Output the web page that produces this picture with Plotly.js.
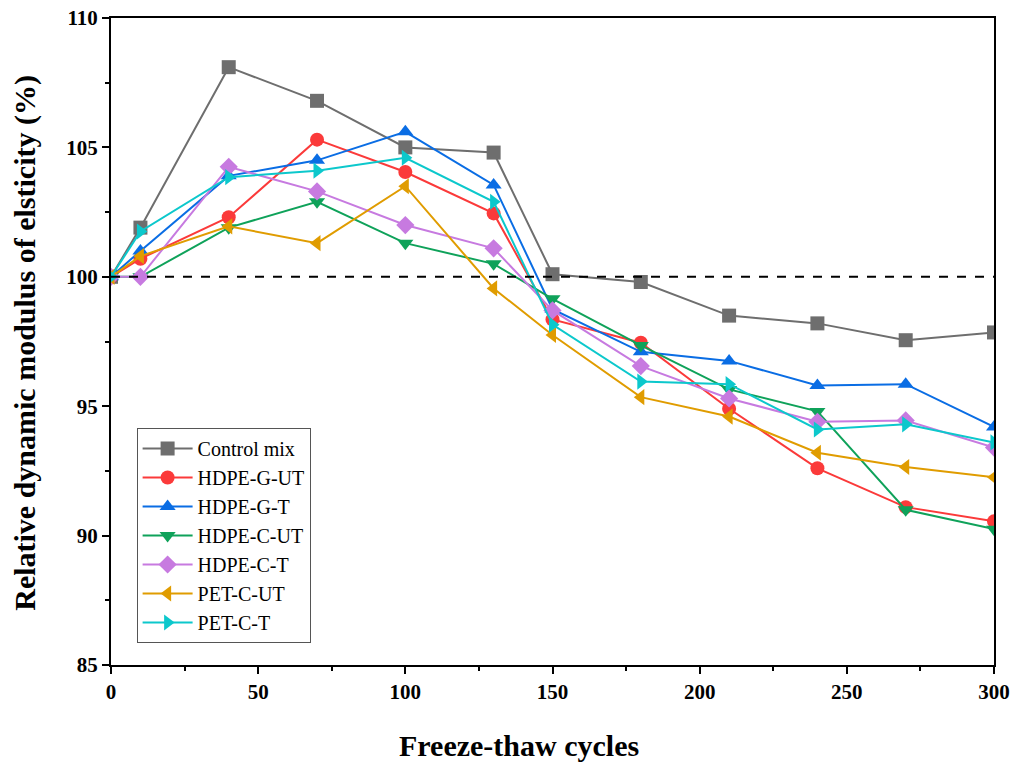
<!DOCTYPE html>
<html>
<head>
<meta charset="utf-8">
<script src="https://cdn.plot.ly/plotly-3.0.1.min.js"></script>
<style>
  html, body { margin: 0; padding: 0; background: #fff; }
  #chart { width: 1020px; height: 771px; }
</style>
</head>
<body>
<div id="chart"></div>
<script>
var cycles = [0, 10, 40, 70, 100, 130, 150, 180, 210, 240, 270, 300];

var controlMix = [100, 101.9, 108.1, 106.8, 105.0, 104.8, 100.1, 99.8, 98.5, 98.2, 97.55, 97.85];
var hdpeGUT = [100, 100.7, 102.3, 105.3, 104.05, 102.45, 98.35, 97.45, 94.9, 92.6, 91.1, 90.55];
var hdpeGT = [100, 101.0, 103.9, 104.5, 105.6, 103.55, 98.75, 97.1, 96.75, 95.8, 95.85, 94.2];
var hdpeCUT = [100, 100.0, 101.9, 102.9, 101.3, 100.5, 99.15, 97.35, 95.65, 94.8, 91.0, 90.25];
var hdpeCT = [100, 100.0, 104.25, 103.3, 102.0, 101.1, 98.7, 96.55, 95.3, 94.4, 94.45, 93.4];
var petCUT = [100, 100.8, 101.95, 101.3, 103.5, 99.55, 97.75, 95.35, 94.6, 93.2, 92.65, 92.25];
var petCT = [100, 101.75, 103.85, 104.1, 104.6, 102.9, 98.15, 95.95, 95.85, 94.1, 94.3, 93.6];

var seriesNames = ["Control mix", "HDPE-G-UT", "HDPE-G-T", "HDPE-C-UT", "HDPE-C-T", "PET-C-UT", "PET-C-T"];
var seriesValues = [controlMix, hdpeGUT, hdpeGT, hdpeCUT, hdpeCT, petCUT, petCT];
var seriesColors = ["#6e6e6e", "#fb3a3a", "#0a6de4", "#0fa25a", "#c77ae0", "#e09c00", "#0cc8cc"];
var seriesSymbols = ["square", "circle", "triangle-up", "triangle-down", "diamond", "triangle-left", "triangle-right"];

var serif = "Liberation Serif, Times New Roman, serif";

var traces = seriesNames.map(function (name, i) {
  return {
    x: cycles,
    y: seriesValues[i],
    name: name,
    type: "scatter",
    mode: "lines+markers",
    line: { color: seriesColors[i], width: 2 },
    marker: { symbol: seriesSymbols[i], size: 14, color: seriesColors[i] },
  };
});

// reference line at 100 %
traces.push({
  x: [0, 300],
  y: [100, 100],
  type: "scatter",
  mode: "lines",
  line: { color: "#000", width: 2, dash: "dash" },
  showlegend: false,
  hoverinfo: "skip",
});

var axisCommon = {
  showline: true,
  linecolor: "#000",
  linewidth: 2,
  mirror: true,
  showgrid: false,
  zeroline: false,
  ticks: "outside",
  ticklen: 7,
  tickwidth: 2,
  tickcolor: "#000",
  tickfont: { family: serif, size: 21, color: "#000", weight: "bold" },
};

var titleFont = { family: serif, size: 30, color: "#000", weight: "bold" };

var layout = {
  width: 1020,
  height: 771,
  margin: { l: 111, r: 26, t: 18, b: 106 },
  paper_bgcolor: "#fff",
  plot_bgcolor: "#fff",
  showlegend: true,
  legend: {
    x: 0.029,
    y: 0.034,
    xanchor: "left",
    yanchor: "bottom",
    bgcolor: "#fff",
    bordercolor: "#555",
    borderwidth: 1,
    itemwidth: 50,
    font: { family: serif, size: 20, color: "#000" },
    tracegroupgap: 0,
  },
  xaxis: Object.assign({}, axisCommon, {
    range: [0, 300],
    tickvals: [0, 50, 100, 150, 200, 250, 300],
    minor: { tickvals: [25, 75, 125, 175, 225, 275], ticklen: 4, tickwidth: 2, tickcolor: "#000", ticks: "outside" },
  }),
  yaxis: Object.assign({}, axisCommon, {
    range: [85, 110],
    tickvals: [85, 90, 95, 100, 105, 110],
    minor: { tickvals: [87.5, 92.5, 97.5, 102.5, 107.5], ticklen: 4, tickwidth: 2, tickcolor: "#000", ticks: "outside" },
  }),
  annotations: [
    {
      text: "Freeze-thaw cycles",
      xref: "paper", yref: "paper",
      x: 0.462, y: -0.124,
      xanchor: "center", yanchor: "middle",
      showarrow: false,
      font: titleFont,
    },
    {
      text: "Relative dynamic modulus of elsticity (%)",
      xref: "paper", yref: "paper",
      x: -0.0974, y: 0.498,
      xanchor: "center", yanchor: "middle",
      textangle: -90,
      showarrow: false,
      font: titleFont,
    },
  ],
};

Plotly.newPlot("chart", traces, layout, { displayModeBar: false, staticPlot: true });
</script>
</body>
</html>
